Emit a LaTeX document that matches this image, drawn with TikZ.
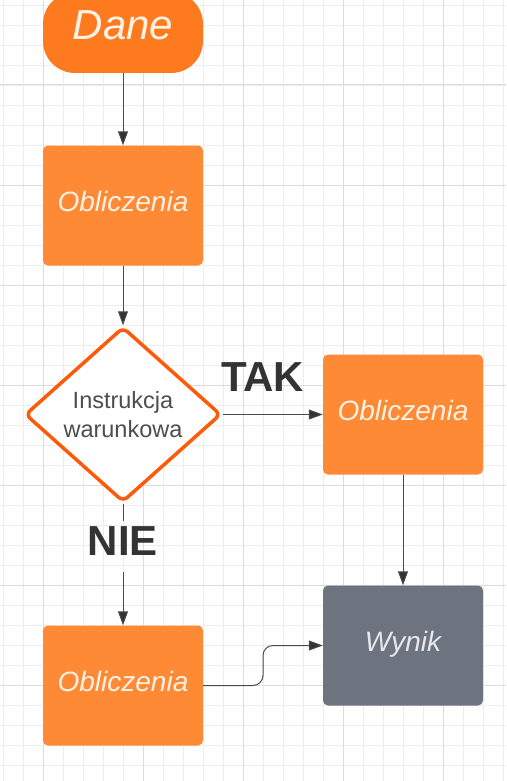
\documentclass[tikz,border=0pt]{standalone}
\usepackage{fontspec}
\setmainfont{Liberation Sans}
\usetikzlibrary{arrows.meta,shapes.geometric}
\definecolor{danec}{HTML}{FE7A1E}
\definecolor{boxc}{HTML}{FF8A35}
\definecolor{diac}{HTML}{FF5A0A}
\definecolor{wynikc}{HTML}{6E7380}
\definecolor{txtc}{HTML}{FFF1E4}
\definecolor{wtxt}{HTML}{E6E8EE}
\definecolor{gridminor}{HTML}{EDEDED}
\definecolor{gridmajor}{HTML}{DCDCDC}
\definecolor{linec}{HTML}{4A4A4A}
\definecolor{tipc}{HTML}{333333}
\definecolor{lblc}{HTML}{333333}
\definecolor{diatxt}{HTML}{4D4D4D}
\tikzset{
  pill/.style={rectangle, rounded corners=32pt, fill=danec, minimum width=160pt, minimum height=81pt, inner sep=0pt,
    text=txtc, font=\fontsize{42}{48}\selectfont\itshape, text depth=15pt},
  procbox/.style={rectangle, rounded corners=5pt, fill=boxc, minimum width=160pt, minimum height=120pt, inner sep=0pt,
    text=txtc, font=\fontsize{28}{34}\selectfont\itshape, text depth=8pt},
  resbox/.style={procbox, fill=wynikc, text=wtxt},
  decision/.style={diamond, draw=diac, line width=3.5pt, rounded corners=6pt, fill=white, minimum width=196pt,
    minimum height=175pt, inner sep=0pt, align=center, text=diatxt, font=\fontsize{23.5}{29.6}\selectfont},
  lbl/.style={text=lblc, font=\fontsize{42}{50}\selectfont\bfseries, inner sep=0pt},
  conn/.style={draw=linec, line width=1pt, -{Triangle[length=14pt,width=10pt,fill=tipc]}},
  plain/.style={draw=linec, line width=1pt},
  gminor/.style={draw=gridminor, line width=0.8pt},
  gmajor/.style={draw=gridmajor, line width=1pt}
}
\begin{document}
\begin{tikzpicture}[x=1pt,y=-1pt]
\useasboundingbox (0,0) rectangle (506,781);
\fill[white] (0,0) rectangle (506,781);
% grid
\foreach \i in {0,...,25} \draw[gminor] (3.3+20*\i,0) -- (3.3+20*\i,781);
\foreach \i in {0,...,38} \draw[gminor] (0,5+20*\i) -- (506,5+20*\i);
\foreach \x in {43.3,143.3,243.3,343.3,443.3} \draw[gmajor] (\x,0) -- (\x,781);
\foreach \y in {85,185,285,385,485,585,685} \draw[gmajor] (0,\y) -- (506,\y);
% nodes
\node[pill] (dane) at (123,32.5) {Dane};
\node[procbox] (ob1) at (123,205.5) {Obliczenia};
\node[decision] (dia) at (123,414.5) {Instrukcja\\warunkowa};
\node[procbox] (ob2) at (403,414.5) {Obliczenia};
\node[resbox] (wynik) at (403,645.5) {Wynik};
\node[procbox] (ob3) at (123,685.5) {Obliczenia};
\node[lbl] (tak) at (262.7,377.2) {TAK};
\node[lbl, anchor=north, inner ysep=5.5pt, text depth=11pt] (nie) at (123,521) {NIE};
\coordinate (mid) at (263,665);
% connectors
\draw[conn] (dane.south) -- (ob1.north);
\draw[conn] (ob1.south) -- (dia.north);
\draw[conn] (dia.east) -- (ob2.west);
\draw[plain] (dia.south) -- (nie.north);
\draw[conn] (nie.south) -- (ob3.north);
\draw[conn] (ob2.south) -- (wynik.north);
\draw[conn, rounded corners=10pt] (ob3.east) -| (mid) |- (wynik.west);
\end{tikzpicture}
\end{document}
